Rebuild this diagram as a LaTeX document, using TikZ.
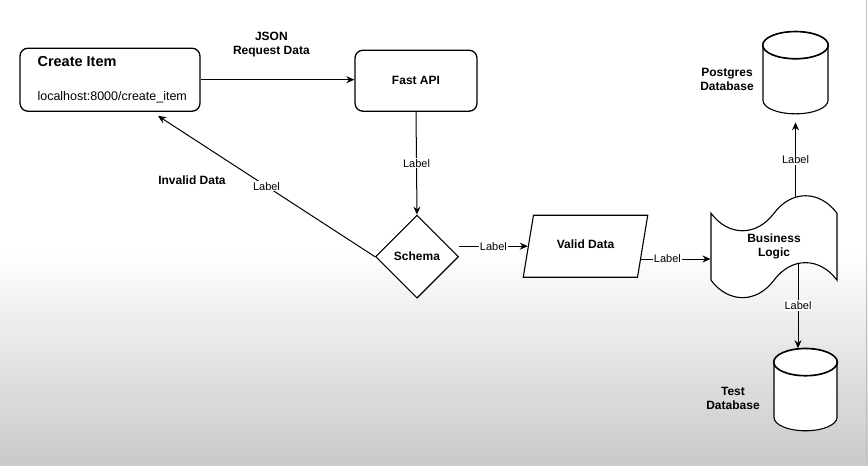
\documentclass[tikz,border=0pt]{standalone}
\usepackage{fontspec}
\setmainfont{Liberation Sans}
\usetikzlibrary{shapes.geometric, shapes.symbols, arrows.meta, calc}

\begin{document}
\begin{tikzpicture}[x=1pt, y=-1pt,
box/.style={draw, line width=1.3pt, rounded corners=8pt, fill=white},
decision/.style={draw, line width=1.1pt, diamond, aspect=1, inner sep=0pt, fill=white},
datain/.style={draw, line width=1.1pt, trapezium, trapezium left angle=72, trapezium right angle=108, trapezium stretches=true, fill=white},
wave/.style={draw, line width=1.1pt, tape, tape bend height=35pt, fill=white},
store/.style={draw, line width=1.1pt, cylinder, shape border rotate=90, aspect=4, fill=white},
arrow/.style={-{Stealth[length=8pt, width=7pt]}, line width=1pt},
lbl/.style={fill=white, inner sep=1pt, font=\fontsize{11}{12}\selectfont},
bold/.style={font=\fontsize{12}{14}\selectfont\bfseries, align=center}]

% background of the screenshot
\fill[white] (0,0) rectangle (868,250);
\shade[top color=white, bottom color=black!21] (0,250) rectangle (868,465);
\draw[black!25] (866,0) -- (866,465);

% nodes
\node[box, minimum width=180pt, minimum height=63pt] (createitem) at (110,79.5) {};
\node[anchor=west, font=\fontsize{14.5}{16}\selectfont\bfseries] (createtitle) at (34,61) {Create Item};
\node[anchor=west, font=\fontsize{12.5}{14}\selectfont] (createurl) at (34,97) {localhost:8000/create\_item};
\node[box, minimum width=122pt, minimum height=61pt, bold] (fastapi) at (416,80.5) {Fast API};
\node[decision, minimum width=83pt, minimum height=83pt, bold] (schema) at (417,256.5) {Schema};
\node[datain, minimum width=125pt, minimum height=62pt, bold] (valid) at (585.5,246) {\raisebox{4pt}{Valid Data}};
\node[wave, minimum width=126pt, minimum height=96pt, bold] (logic) at (774,246.5) {Business\\Logic};
\node[store, minimum width=65pt, minimum height=82pt] (postgres) at (795.5,82.5) {};
\node[store, minimum width=63pt, minimum height=82pt] (testdb) at (805.5,399.5) {};

% front rim of the two cylinders
\foreach \db in {postgres, testdb}
  \draw[line width=1.1pt] let \p1=(\db.before top), \p2=(\db.after top), \p3=(\db.top)
    in ($(\p1)!0.5!(\p2)$) ellipse [x radius={0.5*abs(\x1-\x2)}, y radius={abs(\y3-0.5*\y1-0.5*\y2)}];

% texts beside the shapes
\node[bold] (invalidtxt) at (192,180) {Invalid Data};
\node[bold] (postgrestxt) at (727,79) {Postgres\\Database};
\node[bold] (testtxt) at (733,398) {Test\\Database};

% ends of the connectors on the wavy shape
\coordinate (logictop) at ([xshift=21.5pt, yshift=49pt]logic.center);
\coordinate (logicbottom) at ([xshift=24pt, yshift=-16pt]logic.center);

% connectors
\draw[arrow] (createitem.east) -- (createitem.east -| fastapi.west)
  node[pos=0.46, above=19pt, bold] {JSON\\Request Data};
\draw[arrow] (fastapi.south) -- (schema.north) node[midway, lbl] {Label};
\draw[arrow] (schema.west) -- ([xshift=48pt, yshift=-4pt]createitem.south) node[midway, lbl] {Label};
\draw[arrow] (schema.east |- valid.west) -- (valid.west) node[midway, lbl] {Label};
\draw[arrow] (valid.-13) -- (valid.-13 -| logic.west) node[pos=0.38, lbl] {Label};
\draw[arrow] (logictop) -- ([yshift=-8pt]postgres.south) node[midway, lbl] {Label};
\draw[arrow] (logicbottom) -- (logicbottom |- testdb.north) node[midway, lbl] {Label};
\end{tikzpicture}
\end{document}
